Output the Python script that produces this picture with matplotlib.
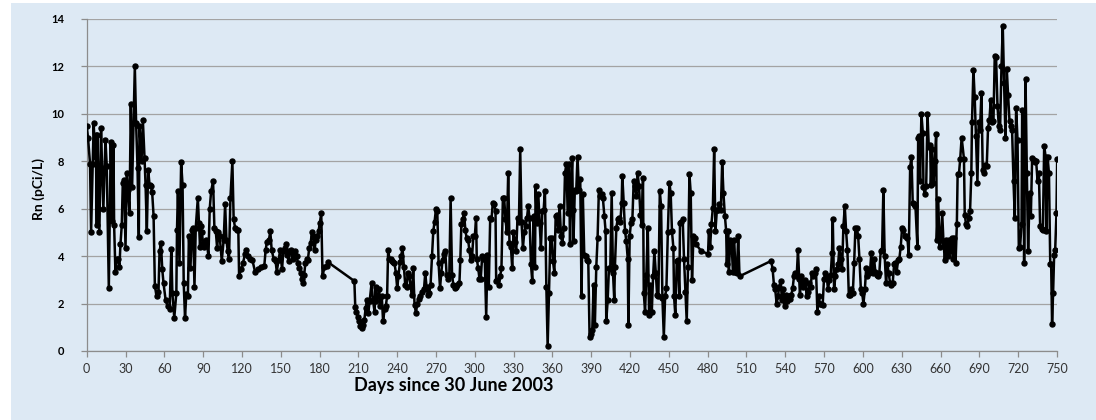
import matplotlib
matplotlib.use("Agg")
import matplotlib.pyplot as plt
from matplotlib.patches import Rectangle

# Rn (pCi/L) vs days since 30 June 2003
days_a = [0.0, 1.0, 2.6, 3.4, 4.7, 5.4, 6.5, 7.0, 7.8, 8.3,
          9.0, 9.8, 11.1, 11.9, 12.9, 14.5, 15.5, 17.1, 18.6, 19.6,
          20.7, 21.2, 22.2, 23.3, 24.3, 25.3, 26.1, 27.1, 27.9, 28.9,
          30.0, 31.0, 32.0, 33.1, 34.1, 35.1, 36.2, 37.2, 38.2, 39.3,
          40.3, 40.8, 42.4, 43.4, 44.7, 45.5, 46.5, 47.5, 48.6, 49.6,
          50.6, 51.7, 52.7, 54.0, 55.5, 56.3, 57.4, 58.4, 59.4, 61.0,
          62.5, 64.1, 65.4, 66.2, 67.7, 69.3, 69.8]
rn_a = [9.5, 9.0, 7.9, 5.0, 7.9, 9.6, 8.2, 9.1, 5.3, 9.1,
        7.1, 5.0, 9.4, 7.7, 6.0, 8.9, 7.8, 2.65, 8.8, 5.5,
        8.7, 5.3, 3.35, 3.9, 3.9, 3.55, 4.5, 5.3, 7.1, 7.2,
        4.35, 7.5, 6.8, 5.8, 10.4, 6.9, 9.6, 12.0, 9.6, 7.7,
        4.8, 9.5, 8.0, 9.75, 8.15, 7.0, 5.05, 7.65, 7.0, 6.95,
        6.7, 5.7, 2.75, 2.3, 2.5, 4.2, 4.55, 3.45, 2.85, 2.15,
        1.9, 1.75, 4.3, 2.45, 1.4, 2.45, 5.1]

days_b = [70.5, 71.7, 73.0, 74.1, 75.0, 76.0, 77.0, 78.2, 79.0, 80.2,
          81.3, 82.3, 83.3, 84.3, 85.9, 86.8, 87.6, 88.3, 89.0, 90.0,
          91.0, 92.6, 94.1, 95.1, 96.2, 97.7, 98.7, 99.8, 100.8, 101.8,
          102.8, 104.4, 105.9, 107.0, 108.0, 109.0, 110.0, 111.1, 112.6, 113.6,
          114.7, 116.2, 117.2, 117.8, 119.3, 120.8, 122.4, 123.4, 125.0, 126.5,
          128.0, 130.1, 132.1, 134.7, 137.3, 138.3, 139.3, 140.9, 141.9, 143.0,
          144.5, 146.0]
rn_b = [6.75, 3.7, 7.95, 7.0, 2.85, 1.4, 2.4, 2.3, 4.85, 3.5,
        5.1, 5.2, 2.7, 5.2, 6.45, 5.4, 4.4, 5.25, 5.0, 4.55,
        4.4, 4.7, 4.0, 6.0, 6.75, 7.15, 5.2, 5.05, 4.35, 5.0,
        4.85, 3.8, 4.7, 6.2, 4.7, 4.2, 3.9, 6.45, 8.0, 5.55,
        5.2, 5.1, 5.1, 3.15, 3.45, 3.7, 4.1, 4.25, 4.0, 3.9,
        3.85, 3.35, 3.45, 3.55, 3.6, 4.25, 4.6, 4.7, 5.05, 4.25,
        3.9, 3.8]

days_c = [146.9, 148.4, 149.5, 151.0, 152.0, 153.1, 154.1, 155.1, 156.1, 157.2,
          158.2, 159.2, 160.2, 161.3, 162.3, 163.3, 164.3, 165.4, 166.4, 167.4,
          168.1, 169.0, 170.0, 171.0, 172.0, 173.1, 174.1, 175.1, 176.1, 177.2,
          178.2, 179.2, 180.2, 181.3, 182.3, 183.8, 185.4, 186.4]
rn_c = [3.35, 3.85, 4.25, 3.45, 4.2, 4.35, 4.5, 4.05, 3.8, 4.2,
        4.25, 3.9, 4.1, 4.2, 4.0, 3.7, 3.5, 3.3, 3.05, 2.85,
        3.2, 3.7, 3.9, 3.85, 4.35, 4.55, 5.0, 4.85, 4.25, 4.7,
        4.85, 5.05, 5.4, 5.8, 3.15, 3.55, 3.6, 3.75]

days_d = [206.9, 207.6, 208.4, 209.5, 210.5, 211.5, 212.5, 213.6, 214.6, 215.6,
          216.6, 217.7, 218.7, 220.2, 221.3, 222.5, 223.3, 224.0, 225.0, 226.0,
          227.1, 228.1, 229.1, 230.2, 231.2, 232.2, 233.0, 234.0, 235.0, 235.9,
          236.9, 237.9, 239.0, 240.0, 241.0, 242.1, 243.1, 244.1, 245.2, 246.2,
          247.2, 248.3, 249.3, 250.3, 251.4, 252.4, 253.4, 254.5, 255.5, 256.5,
          257.6, 259.1, 260.7, 261.7, 262.7, 263.8, 264.8, 265.8, 266.9, 267.9,
          268.9, 270.0, 271.0, 272.0, 273.1, 274.1, 275.1, 276.2, 277.2, 278.2,
          279.3, 280.3, 281.3, 282.4, 283.4, 284.4, 285.5, 286.5, 288.1, 288.8,
          289.6, 290.6, 291.7, 292.7, 293.7, 294.8, 295.8, 296.8]
rn_d = [2.95, 1.85, 1.65, 1.45, 1.25, 1.05, 0.95, 1.1, 1.3, 1.8,
        2.15, 1.6, 2.1, 2.85, 2.15, 1.65, 2.7, 2.1, 2.3, 2.6,
        1.9, 2.3, 1.25, 1.75, 1.9, 2.3, 4.25, 3.9, 3.9, 3.8,
        3.75, 3.7, 3.3, 2.65, 3.15, 3.75, 4.0, 4.35, 3.55, 2.8,
        2.7, 3.3, 3.15, 2.8, 2.35, 3.5, 1.95, 1.6, 2.0, 2.2,
        2.3, 2.5, 2.6, 3.3, 2.7, 2.35, 2.45, 2.8, 4.0, 5.05,
        5.45, 6.0, 5.9, 3.7, 2.65, 3.3, 3.85, 4.1, 4.2, 3.2,
        3.05, 3.2, 6.45, 3.2, 2.8, 2.65, 2.7, 2.8, 2.85, 3.85,
        5.35, 5.55, 5.8, 5.1, 4.75, 4.7, 4.25, 3.85]

days_e = [297.9, 298.9, 300.0, 301.0, 301.5, 302.6, 303.6, 304.6, 305.7, 306.7,
          307.7, 308.8, 309.8, 310.8, 311.9, 312.9, 313.9, 315.0, 316.0, 316.5,
          317.5, 318.6, 319.6, 320.6, 321.7, 322.7, 323.7, 324.8, 325.8, 326.8,
          327.9, 328.9, 329.9, 331.0, 332.0, 333.0, 334.1, 335.1, 336.1, 337.2,
          338.2, 339.2, 340.3, 341.3, 342.3, 343.4, 344.4, 345.4, 346.5, 347.0,
          348.0, 349.1, 350.1, 351.1, 352.2, 353.2, 354.2, 355.3, 356.3, 357.3,
          358.4, 359.4, 360.4, 361.5, 362.5, 363.5, 364.6, 365.6, 366.6, 367.7,
          368.7, 369.7, 370.8, 371.8, 372.8, 373.6, 374.3, 375.3, 375.8, 376.3,
          377.3, 378.4, 379.4, 380.4, 381.5]
rn_e = [4.0, 4.85, 4.85, 5.6, 3.9, 3.5, 3.05, 3.05, 4.0, 3.9,
        3.9, 1.45, 4.05, 2.7, 5.6, 5.55, 6.25, 6.2, 5.9, 2.95,
        3.0, 2.8, 3.15, 3.5, 6.45, 6.45, 5.55, 5.0, 7.5, 4.55,
        4.4, 3.5, 5.0, 4.6, 4.2, 5.6, 5.45, 8.5, 5.45, 4.35,
        5.0, 5.25, 5.6, 6.1, 5.6, 3.65, 2.95, 5.7, 3.55, 6.95,
        5.4, 6.6, 5.4, 4.35, 5.9, 5.95, 6.75, 2.7, 0.2, 2.45,
        4.75, 4.75, 3.8, 3.3, 5.7, 5.75, 5.1, 6.1, 4.85, 4.55,
        5.2, 7.5, 7.9, 5.8, 7.9, 4.5, 6.75, 8.15, 5.95, 4.65,
        6.8, 6.75, 8.2, 6.8, 7.25]

days_f = [382.5, 383.5, 384.6, 385.6, 386.6, 387.7, 388.7, 389.7, 390.8, 391.8,
          392.8, 393.9, 394.9, 395.9, 397.0, 398.0, 399.0, 400.1, 401.1, 401.6,
          402.7, 403.7, 404.7, 405.8, 406.8, 407.8, 408.3, 409.4, 410.4, 411.4,
          412.5, 413.5, 414.0, 415.1, 416.1, 417.1, 418.2, 418.7, 419.7, 420.7,
          421.8, 422.8, 423.8, 424.9, 425.9, 426.9, 428.0, 429.0, 430.0, 430.6,
          431.6, 432.6, 433.7, 434.7, 435.7, 436.8, 437.8, 438.8, 439.9, 440.9,
          441.9, 443.0, 444.0, 445.0, 446.1, 447.1, 448.1, 449.2, 450.4, 451.4,
          452.4, 453.5, 454.0, 455.0, 456.1, 457.1, 458.1, 458.6, 459.7, 460.7,
          461.7, 462.8, 463.8, 464.8, 465.9, 466.9, 467.9, 469.0, 470.0, 471.0]
rn_f = [2.3, 6.6, 4.05, 4.0, 3.85, 3.8, 0.6, 0.7, 0.9, 2.8,
        1.1, 3.55, 4.75, 6.8, 6.55, 6.6, 6.45, 5.7, 5.05, 1.25,
        2.15, 3.5, 3.45, 6.65, 3.3, 2.15, 3.55, 5.2, 5.55, 5.6,
        5.45, 6.25, 7.4, 6.25, 5.05, 4.65, 3.9, 1.1, 4.85, 5.4,
        5.55, 7.15, 6.95, 6.55, 7.5, 6.95, 5.75, 5.3, 7.3, 2.45,
        1.65, 3.2, 5.2, 1.5, 2.8, 1.65, 3.15, 4.2, 3.3, 2.35,
        2.3, 6.75, 6.1, 2.25, 0.6, 2.3, 2.65, 5.0, 7.1, 6.65,
        5.05, 4.35, 2.3, 1.5, 3.8, 3.85, 2.3, 5.4, 5.45, 5.55,
        3.9, 2.5, 1.25, 3.55, 7.45, 6.65, 3.0, 4.85, 4.75, 4.5]

days_g = [475.2, 480.3, 480.9, 481.9, 482.9, 484.0, 485.0, 486.0, 487.1, 488.1,
          489.1, 490.2, 491.2, 492.2, 493.3, 494.3, 494.8, 495.8, 496.4, 497.4,
          498.4, 499.5, 500.5, 501.5, 502.6, 503.6, 504.6]
rn_g = [4.2, 4.1, 5.05, 4.4, 5.35, 6.05, 8.5, 5.05, 5.95, 5.95,
        6.2, 5.95, 7.95, 6.65, 5.7, 5.05, 3.65, 5.05, 3.35, 4.7,
        4.65, 3.35, 4.7, 3.35, 3.3, 4.85, 3.15]

days_h = [529.1, 530.2, 531.2, 532.2, 533.3, 534.3, 535.3, 536.4, 537.4, 538.4,
          539.5, 540.5, 541.5, 542.6, 543.6, 544.6, 545.7, 546.7, 547.7, 548.8,
          549.8, 550.8, 551.3, 552.4, 553.4, 554.4, 555.5, 556.5, 557.5, 558.6,
          559.6, 560.6, 561.7, 562.7, 563.7, 564.8, 565.8, 566.8, 567.9, 568.9,
          569.9, 571.0, 572.0, 573.0, 574.1, 575.1, 576.1, 576.7, 577.7, 578.7,
          579.8, 580.8, 581.8, 582.9, 583.9, 584.9, 586.0, 587.0, 588.0, 589.1,
          590.1, 591.1, 592.2, 593.2, 594.2, 595.3, 596.3, 597.3, 598.4, 599.4,
          600.4, 601.5, 602.5]
rn_h = [3.8, 3.45, 2.8, 2.6, 2.0, 2.3, 2.7, 2.95, 2.15, 2.6,
        1.9, 2.35, 2.1, 2.3, 2.2, 2.35, 2.65, 3.15, 3.3, 3.15,
        4.25, 3.05, 2.35, 3.15, 2.7, 2.8, 3.0, 2.3, 2.5, 2.85,
        2.7, 3.3, 3.15, 3.3, 3.45, 1.65, 2.3, 2.0, 2.0, 1.95,
        3.05, 3.3, 3.15, 2.6, 3.0, 3.2, 4.15, 5.55, 2.6, 3.15,
        3.45, 3.65, 4.35, 3.9, 3.45, 5.25, 6.1, 5.05, 4.25, 2.35,
        2.35, 2.6, 2.45, 3.7, 5.2, 5.2, 4.85, 3.9, 2.6, 2.45,
        2.0, 2.6, 3.5]

days_i = [603.4, 604.4, 605.5, 606.5, 607.5, 608.6, 609.6, 610.6, 611.7, 612.7,
          613.7, 614.8, 615.8, 616.8, 617.9, 618.9, 619.9, 621.0, 622.0, 623.0,
          624.1, 625.1, 626.1, 627.2, 628.2, 629.2, 630.3, 631.3, 632.3, 633.4,
          634.4, 635.4, 636.5, 637.5, 638.5, 639.6, 640.6, 642.1, 642.7, 643.2,
          644.2, 645.2, 646.3, 646.8, 647.8, 648.9, 649.9, 650.9, 652.0, 652.5,
          653.5, 654.5, 655.6, 656.6, 657.1, 658.2, 659.2, 660.2, 661.3, 662.3,
          663.3, 664.4, 665.4, 666.4, 667.5, 668.5, 669.5, 670.6, 671.6, 672.6,
          673.2, 674.2, 675.2, 676.3]
rn_i = [3.15, 3.3, 3.35, 4.15, 3.3, 3.9, 3.35, 3.2, 3.15, 3.3,
        4.2, 4.25, 6.8, 4.0, 2.85, 3.65, 3.3, 2.85, 2.8, 2.85,
        3.65, 3.7, 3.35, 3.85, 3.9, 4.4, 5.2, 5.1, 4.85, 4.85,
        4.75, 4.05, 7.75, 8.2, 6.25, 6.2, 6.1, 4.4, 9.0, 9.05,
        7.15, 10.0, 9.2, 6.9, 6.6, 6.95, 10.0, 8.6, 8.7, 7.0,
        8.5, 7.1, 8.0, 9.15, 4.7, 6.4, 4.4, 4.7, 5.8, 4.55,
        3.85, 4.7, 4.0, 4.7, 4.2, 4.75, 3.9, 4.75, 3.7, 5.35,
        7.45, 7.45, 8.1, 9.0]

days_j = [678.1, 678.7, 679.7, 680.7, 681.8, 682.8, 683.8, 684.3, 685.4, 686.4,
          687.4, 688.5, 689.5, 690.5, 691.6, 692.6, 693.6, 694.7, 695.7, 696.7,
          697.8, 698.8, 699.8, 700.9, 701.9, 702.9, 704.0, 705.0, 706.0, 707.1,
          708.1, 709.1, 710.2, 711.2, 712.2, 713.3, 714.3, 715.3, 716.4, 717.4,
          718.4, 719.5, 720.5, 721.5, 722.6, 723.1, 724.1, 724.6, 725.7, 726.7,
          727.7, 728.8, 729.8, 730.8, 731.9, 732.9, 733.9, 735.0, 736.0, 737.0,
          738.1, 739.1, 740.1, 741.2, 741.7, 742.7, 743.8, 744.8, 745.5, 746.2,
          747.0, 747.8, 748.6, 749.6, 750.15]
rn_j = [8.1, 5.75, 5.35, 5.25, 5.6, 5.9, 7.5, 9.65, 11.85, 10.7,
        9.05, 7.1, 9.65, 9.3, 10.9, 7.65, 7.5, 7.85, 7.8, 9.4,
        9.75, 10.6, 9.65, 9.7, 12.45, 12.4, 10.35, 9.5, 9.3, 12.0,
        13.7, 11.3, 9.0, 11.9, 10.8, 9.7, 9.5, 9.3, 7.15, 5.6,
        10.25, 8.9, 4.35, 4.4, 5.35, 10.15, 8.85, 3.7, 11.45, 7.5,
        4.2, 6.65, 5.7, 8.15, 8.05, 7.95, 8.0, 7.15, 7.5, 5.25,
        5.15, 5.1, 8.65, 8.2, 5.05, 8.2, 7.5, 3.65, 3.65, 1.15,
        2.45, 4.05, 4.25, 5.8, 8.1]

days = days_a + days_b + days_c + days_d + days_e + days_f + days_g + days_h + days_i + days_j
rn = rn_a + rn_b + rn_c + rn_d + rn_e + rn_f + rn_g + rn_h + rn_i + rn_j

x_ticks = list(range(0, 751, 30))
y_ticks = list(range(0, 15, 2))

BG = '#dde9f4'
GRID = '#a3a3a3'
AXIS = '#8c8c8c'

plt.rcParams['font.family'] = ['Lato', 'DejaVu Sans']

fig = plt.figure(figsize=(10.96, 4.2), dpi=100)
fig.patch.set_facecolor('white')
fig.patches.append(Rectangle((11 / 1096, 0), 1, 1 - 3 / 420, transform=fig.transFigure,
                             facecolor=BG, edgecolor='none', zorder=-10))

ax = fig.add_axes([0.0791, 0.1643, 0.8853, 0.7905])
ax.set_facecolor('none')

ax.plot(days, rn, color='black', linewidth=1.8, marker='o', markersize=3.6,
        markerfacecolor='black', markeredgecolor='black', zorder=3)

ax.set_xlim(0, 750)
ax.set_ylim(0, 14)
ax.set_xticks(x_ticks)
ax.set_yticks(y_ticks)
ax.set_xticklabels([str(t) for t in x_ticks], fontsize=9, color='#333333')
ax.set_yticklabels([str(t) for t in y_ticks], fontsize=8, fontweight='bold', color='black')

ax.grid(axis='y', color=GRID, linewidth=0.9)
ax.set_axisbelow(True)
for side in ['top', 'right']:
    ax.spines[side].set_visible(False)
for side in ['left', 'bottom']:
    ax.spines[side].set_color(AXIS)
    ax.spines[side].set_linewidth(0.9)

ax.tick_params(axis='x', colors=AXIS, labelcolor='#333333', length=4, width=0.9, pad=5)
ax.tick_params(axis='y', colors=AXIS, labelcolor='black', length=4, width=0.9, pad=12)

fig.text(354 / 1096, 1 - 385 / 420, 'Days since 30 June 2003', fontsize=13,
         fontweight='bold', ha='left', va='center', color='black')
fig.text(39 / 1096, 1 - 189 / 420, 'Rn (pCi/L)', fontsize=10, fontweight='bold',
         rotation=90, ha='center', va='center', color='black')

fig.savefig('out.png', dpi=100, facecolor=fig.get_facecolor())
plt.close(fig)
